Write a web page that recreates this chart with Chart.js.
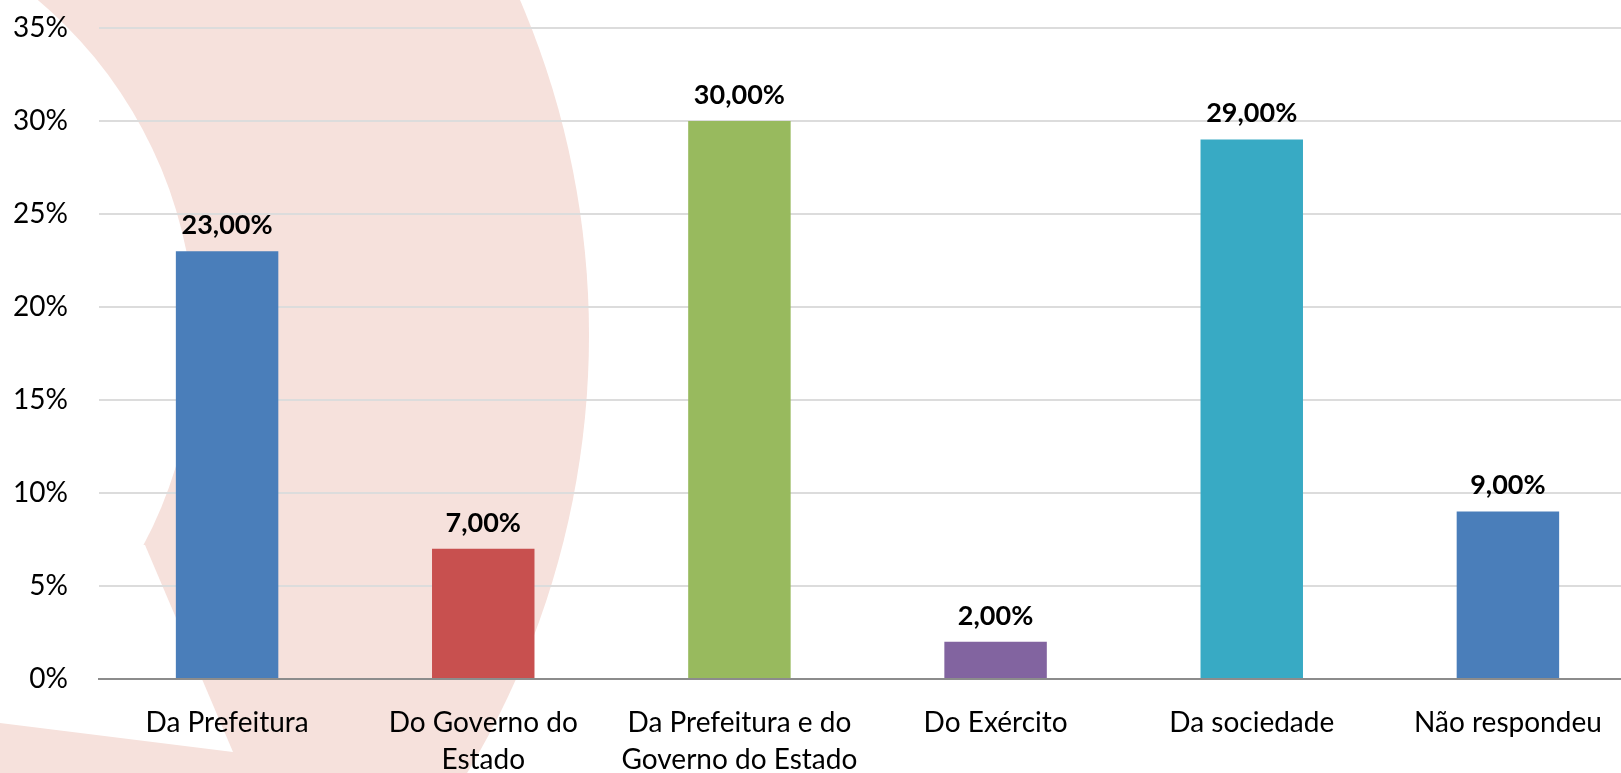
<!DOCTYPE html>
<html>
<head>
<meta charset="utf-8">
<title>Chart</title>
<script src="https://cdn.jsdelivr.net/npm/chart.js@4.4.0/dist/chart.umd.min.js"></script>
<style>
  html, body { margin: 0; padding: 0; background: #fff; overflow: hidden; }
  canvas { display: block; }
</style>
</head>
<body>
<!-- the plot runs a bit past the right edge of the window, like the original slide -->
<canvas id="myChart" width="1636" height="773"></canvas>
<script>
const categories = [
    ['Da Prefeitura'],
    ['Do Governo do', 'Estado'],
    ['Da Prefeitura e do', 'Governo do Estado'],
    ['Do Exército'],
    ['Da sociedade'],
    ['Não respondeu']
];
const values = [23, 7, 30, 2, 29, 9];
const barColors = ['#4A7EBA', '#C8504F', '#98BA5E', '#8264A0', '#38AAC4', '#4A7EBA'];
const yMin = 0;
const yMax = 35;
const yStep = 5;

const ctx = document.getElementById('myChart');

// pink ring in the slide background
const backdrop = {
    id: 'backdrop',
    beforeDraw(chart) {
        const c = chart.ctx;
        c.save();
        c.fillStyle = '#fff';
        c.fillRect(0, 0, chart.width, chart.height);
        c.fillStyle = '#F6E1DC';
        c.beginPath();
        c.arc(-259, 335, 848, 0, Math.PI * 2);
        c.fill();
        c.fillStyle = '#fff';
        c.beginPath();
        c.arc(-247, 338, 442, 0, Math.PI * 2);
        c.fill();
        c.beginPath();
        c.moveTo(0, 545);
        c.lineTo(145, 545);
        c.lineTo(233, 752);
        c.lineTo(0, 723);
        c.closePath();
        c.fill();
        c.restore();
    }
};

const valueLabels = {
    id: 'valueLabels',
    afterDatasetsDraw(chart) {
        const c = chart.ctx;
        const meta = chart.getDatasetMeta(0);
        c.save();
        c.font = 'bold 27px Lato';
        c.fillStyle = '#000';
        c.textAlign = 'center';
        c.textBaseline = 'middle';
        meta.data.forEach((bar, i) => {
            c.fillText(values[i].toFixed(2).replace('.', ',') + '%', bar.x, bar.y - 26);
        });
        c.restore();
    }
};

Chart.defaults.font.family = 'Lato';
Chart.defaults.color = '#000';

new Chart(ctx, {
    type: 'bar',
    data: {
        labels: categories,
        datasets: [{
            data: values,
            backgroundColor: barColors,
            borderWidth: 0,
            barPercentage: 0.4,
            categoryPercentage: 1.0
        }]
    },
    options: {
        responsive: false,
        animation: false,
        layout: { autoPadding: false, padding: { top: 28, right: 0, left: 0, bottom: 0 } },
        plugins: {
            legend: { display: false },
            tooltip: { enabled: false }
        },
        scales: {
            x: {
                grid: { display: false, drawTicks: false },
                border: { display: true, color: '#8C8C8C', width: 2 },
                ticks: {
                    font: { size: 28, lineHeight: 1.3 },
                    padding: 26,
                    maxRotation: 0,
                    autoSkip: false
                },
                afterFit: (scale) => { scale.height = 94; }
            },
            y: {
                min: yMin,
                max: yMax,
                grid: { color: '#DCDCDC', lineWidth: 2, drawTicks: false },
                border: { display: false },
                ticks: {
                    stepSize: yStep,
                    font: { size: 28 },
                    padding: 31,
                    callback: (v) => v + '%'
                },
                afterFit: (scale) => {
                    scale.width = 99;
                    scale.paddingTop = 0;
                    scale.paddingBottom = 0;
                }
            }
        }
    },
    plugins: [backdrop, valueLabels]
});
</script>
</body>
</html>
